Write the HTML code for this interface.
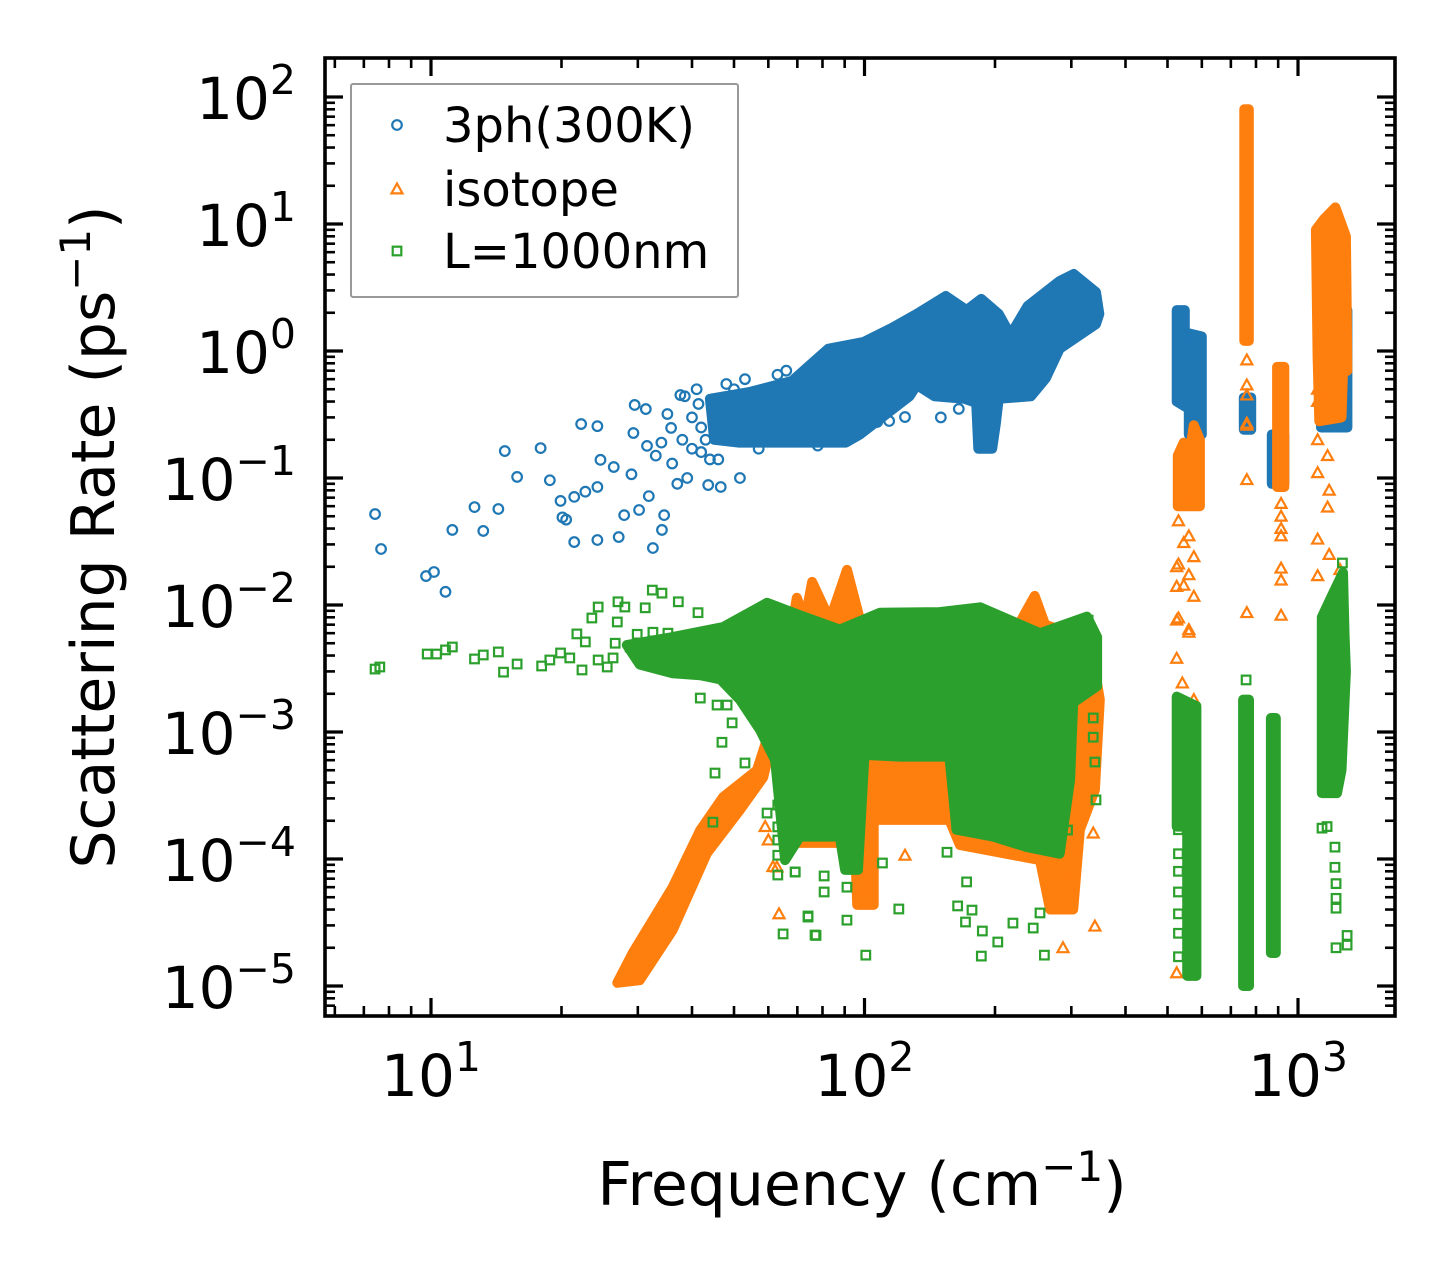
<!DOCTYPE html>
<html><head><meta charset="utf-8"><style>
html,body{margin:0;padding:0;background:#fff;}
svg{display:block;font-family:"DejaVu Sans","Liberation Sans",sans-serif;}
</style></head><body>
<svg id="chart" width="1455" height="1265" viewBox="0 0 1455 1265" xmlns="http://www.w3.org/2000/svg">
<defs><clipPath id="plotclip"><rect x="325" y="58" width="1070" height="958"/></clipPath></defs>
<rect x="0" y="0" width="1455" height="1265" fill="#fff"/>
<g id="series" clip-path="url(#plotclip)"></g>
<g id="axes"></g>
<g id="legend"></g>
</svg>
<script>
// ---------- data (frequency cm^-1, rate ps^-1) ----------
const xMajorTicks = [10, 100, 1000];
const xTickExponents = ["1", "2", "3"];
const yMajorTicks = [1e-5, 1e-4, 1e-3, 1e-2, 1e-1, 1, 10, 100];
const yTickExponents = ["\u22125", "\u22124", "\u22123", "\u22122", "\u22121", "0", "1", "2"];
const seriesNames = ["3ph(300K)", "isotope", "L=1000nm"];

// dense regions (outlines of overlapping markers)
const blueBlobs = [
  [[44,0.42],[54.2,0.475],[68,0.58],[82.4,1.04],[99.7,1.18],[115.7,1.52],[132,1.96],[154,2.71],[172,2.1],[186,2.57],[204,1.96],[217,1.34],[238,2.26],[282,3.56],[304,4.04],[342,2.91],[348,1.96],[342,1.63],[282,1.04],[262,0.61],[242,0.44],[204,0.42],[201,0.27],[197,0.17],[183,0.17],[181,0.39],[170,0.42],[145,0.44],[132,0.54],[127,0.44],[97.6,0.22],[90.6,0.19],[74.8,0.19],[59.6,0.19],[51.4,0.19],[45,0.2]],
  [[525,2.1],[548,2.1],[548,1.4],[600,1.3],[600,0.22],[560,0.22],[560,0.35],[525,0.4]],
  [[750,0.43],[780,0.43],[780,0.24],[750,0.24]],
  [[870,0.22],[930,0.22],[930,0.09],[870,0.09]],
  [[1130,2.1],[1300,2.1],[1300,0.25],[1130,0.25]]
];
const blueFreq = [7.43,7.67,9.74,10.16,10.8,11.2,12.6,13.2,14.3,14.8,15.8,17.9,18.8,19.9,20.5,22.2,24.2,29.5,31.3,29.3,35.1,37.6,38.5,41.4,20.1,21.4,24.2,27.1,32.5,34.1,34.5,43.6,46.6,51.6,24.6,26.4,21.4,22.7,24.2,31.5,35.8,29,30.2,27.9,31.8,101,107,114,124,33,36,38,40,42,39,44,37,34,40,45,43,548,548,42,46,50,53,57,63,70,78,86,95,48,41,60,66,150,165,210];
const blueRate = [0.052,0.0276,0.0169,0.0182,0.0127,0.039,0.059,0.0383,0.057,0.163,0.102,0.172,0.096,0.066,0.047,0.266,0.256,0.376,0.349,0.226,0.319,0.45,0.44,0.383,0.049,0.0313,0.0325,0.0343,0.0281,0.039,0.051,0.088,0.085,0.1,0.139,0.122,0.071,0.078,0.085,0.179,0.248,0.107,0.056,0.051,0.072,0.302,0.276,0.281,0.302,0.15,0.13,0.2,0.17,0.25,0.1,0.14,0.09,0.19,0.3,0.3,0.2,1.3,1.15,0.16,0.14,0.5,0.6,0.17,0.65,0.2,0.18,0.9,1.0,0.55,0.5,0.21,0.7,0.3,0.35,0.55];

const orangeBlobs = [
  [[26.9,1.06e-5],[29.2,1.82e-5],[36.1,6.0e-5],[41.8,1.69e-4],[47.2,3.08e-4],[56.5,5.0e-4],[60.5,1.04e-3],[61.5,9.1e-4],[58.4,4.4e-4],[51.6,2.43e-4],[43.3,1.11e-4],[36.1,2.76e-5],[30.3,1.11e-5]],
  [[67.3,0.0053],[69.8,0.0114],[72.9,0.0076],[75.7,0.0152],[83.2,0.0076],[91.1,0.0189],[97.7,0.0076],[205,0.0053],[230,0.0076],[247,0.0118],[261,0.007],[331,0.0053],[349,0.0018],[340,0.00035],[314,0.00017],[303,4e-5],[268,4e-5],[254,9.8e-5],[166,1.29e-4],[157,2.03e-4],[105,2.03e-4],[105,4.35e-5],[96.2,4.35e-5],[95.1,1.34e-4],[67.3,1.34e-4]],
  [[528,0.15],[545,0.19],[560,0.14],[575,0.26],[594,0.2],[594,0.06],[528,0.06]],
  [[752,80],[770,80],[770,1.2],[752,1.2]],
  [[895,0.75],[930,0.75],[930,0.085],[895,0.085]],
  [[1100,9],[1150,11],[1220,13.5],[1290,8],[1300,0.7],[1270,0.7],[1260,0.3],[1120,0.28],[1110,0.9]]
];
const orangeFreq = [59,60,61.5,63.5,62.8,101,124,287,340,337,29.6,530,560,545,575,530,560,545,575,530,560,525,525,525,560,525,541,575,525,762,762,762,762,762,762,914,914,914,914,914,914,914,1110,1170,1110,1180,1170,1110,1180,1110,1250,1250,1250,1250,1110,1110,1130,762];
const orangeRate = [1.8e-4,1.41e-4,8.7e-5,3.7e-5,8.65e-5,5.5e-5,1.07e-4,2.0e-5,2.96e-5,1.6e-4,1.17e-5,0.046,0.035,0.031,0.024,0.021,0.0173,0.0143,0.0117,0.0079,0.0061,0.02,0.014,0.0076,0.0064,0.0038,0.00243,0.0018,1.27e-5,0.85,0.54,0.45,0.27,0.097,0.0087,0.063,0.05,0.04,0.035,0.0195,0.0157,0.0083,0.2,0.15,0.11,0.08,0.059,0.033,0.025,0.017,0.019,0.0124,0.0091,8.3e-4,0.5,0.4,0.6,0.26];

const greenBlobs = [
  [[28.3,0.00484],[36.1,0.0056],[47.2,0.00671],[59.6,0.0104],[71,0.0083],[87.7,0.0064],[108.6,0.0087],[149,0.0088],[185,0.0096],[254,0.006],[326,0.0081],[344,0.0056],[344,0.0023],[303,0.0017],[298,0.00042],[282,0.00011],[237,0.000124],[198,0.00015],[163,0.00017],[157,0.00064],[121,0.00064],[100,0.00066],[96.6,0.000082],[90.2,0.000082],[87.7,0.00015],[71,0.00015],[65.6,0.000098],[62.2,0.0006],[57.4,0.00104],[51.6,0.0018],[46.5,0.0026],[41.8,0.0028],[36.1,0.0029],[30.3,0.0034]],
  [[525,0.0019],[583,0.0016],[583,1.2e-5],[555,1.2e-5],[555,1.8e-4],[525,1.8e-4]],
  [[747,1.8e-3],[771,1.8e-3],[771,1.0e-5],[747,1.0e-5]],
  [[866,1.29e-3],[889,1.29e-3],[889,1.82e-5],[866,1.82e-5]],
  [[1135,0.008],[1200,0.012],[1270,0.018],[1280,0.006],[1290,0.003],[1260,0.0005],[1230,0.00033],[1135,0.00033]]
];
const greenFreq = [7.43,7.62,9.8,10.3,10.8,11.2,12.6,13.2,14.3,14.7,15.8,18,18.8,19.9,20.9,21.7,22.3,22.7,23.5,24.3,24.3,25.5,26.3,26.9,27,28,26.6,28.8,29.9,31.2,32.4,34.1,32.5,35.2,37.2,41.3,41.8,45.7,48.2,49.5,46.9,45.2,53,44.7,59.6,63.1,63.1,63.1,63.1,63.1,69.2,74.1,64.9,76.9,74.1,77.3,80.7,80.7,69.2,91.1,91.1,100.7,120,110,164,177,171,187,186,203,220,245,260,254,172,155,342,294,340,337,337,328,530,530,530,530,530,530,530,759,1136,1167,1217,1217,1224,1224,1224,1298,1298,1224,1266,1266];
const greenRate = [0.00313,0.00325,0.00411,0.00411,0.00443,0.00467,0.00376,0.00404,0.00427,0.00296,0.00343,0.00331,0.00369,0.00419,0.00383,0.00592,0.00308,0.00512,0.0079,0.00964,0.00369,0.00325,0.00383,0.00735,0.0106,0.00964,0.005,0.00467,0.00588,0.0095,0.0131,0.0124,0.0061,0.006,0.0106,0.0087,0.00185,0.00163,0.00163,0.00118,0.00083,0.000475,0.00057,0.000195,0.00023,0.000266,0.000179,0.000141,0.000107,0.0000748,0.000079,0.0000349,0.0000257,0.0000252,3.56e-5,2.5e-5,7.35e-5,5.5e-5,7.9e-5,3.3e-5,6.0e-5,1.75e-5,4.04e-5,9.3e-5,4.27e-5,3.96e-5,3.19e-5,2.71e-5,1.72e-5,2.22e-5,3.13e-5,2.86e-5,1.75e-5,3.76e-5,6.6e-5,1.13e-4,2.92e-4,1.69e-4,5.8e-4,9.1e-4,1.29e-3,7.6e-3,1.7e-4,1.1e-4,8e-5,5.5e-5,3.7e-5,2.6e-5,1.7e-5,2.57e-3,1.75e-4,1.8e-4,1.24e-4,8.6e-5,6.4e-5,4.9e-5,4.1e-5,2.5e-5,2.1e-5,2.0e-5,0.0214,0.0158];

// ---------- axis functions ----------
const X0 = 431, XD = 433.5, Y0 = 351, YD = 127;
function xs(f){ return X0 + (Math.log10(f) - 1) * XD; }
function ys(r){ return Y0 - Math.log10(r) * YD; }
const PL = 325, PR = 1395, PT = 58, PB = 1016;
const NS = "http://www.w3.org/2000/svg";
const BLUE = "#1f77b4", ORANGE = "#ff7f0e", GREEN = "#2ca02c";

function mk(tag, attrs, parent){
  const e = document.createElementNS(NS, tag);
  for (const k in attrs) e.setAttribute(k, attrs[k]);
  parent.appendChild(e);
  return e;
}
const gS = document.getElementById("series");
const gA = document.getElementById("axes");
const gL = document.getElementById("legend");

function drawBlob(pts, color, parent, name){
  let d = "";
  pts.forEach((p, i) => { d += (i ? "L" : "M") + xs(p[0]).toFixed(1) + " " + ys(p[1]).toFixed(1) + " "; });
  const el = mk("path", {d: d + "Z", fill: color, stroke: color, "stroke-width": 10, "stroke-linejoin": "round"}, parent);
  
  
}
function marker(kind, cx, cy, color, parent, name){
  let el;
  if (kind === "circle") {
    el = mk("circle", {cx: cx, cy: cy, r: 4.8, fill: "none", stroke: color, "stroke-width": 2.2}, parent);
  } else if (kind === "tri") {
    const s = 5.5;
    el = mk("path", {d: `M${cx} ${cy - s}L${cx + s} ${cy + s * 0.8}L${cx - s} ${cy + s * 0.8}Z`, fill: "none", stroke: color, "stroke-width": 2.2}, parent);
  } else {
    el = mk("rect", {x: cx - 4.3, y: cy - 4.3, width: 8.6, height: 8.6, fill: "none", stroke: color, "stroke-width": 2.2}, parent);
  }
  
  
  return el;
}
function drawSeries(blobs, fr, rt, color, kind, key){
  const g = mk("g", {}, gS);
  
  
  blobs.forEach((b) => drawBlob(b, color, g, key + '-dense-cluster'));
  fr.forEach((f, i) => marker(kind, xs(f), ys(rt[i]), color, g, key + '-point'));
}
drawSeries(blueBlobs, blueFreq, blueRate, BLUE, "circle", "3ph");
drawSeries(orangeBlobs, orangeFreq, orangeRate, ORANGE, "tri", "isotope");
drawSeries(greenBlobs, greenFreq, greenRate, GREEN, "square", "boundary");

// ---------- frame & ticks ----------
const frame = mk("rect", {x: PL, y: PT, width: PR - PL, height: PB - PT, fill: "none", stroke: "#000", "stroke-width": 3.6}, gA);



function tickLine(x1, y1, x2, y2, w, name){
  const t = mk("line", {x1: x1, y1: y1, x2: x2, y2: y2, stroke: "#000", "stroke-width": w}, gA);
  
  
}
for (let dec = 1; dec <= 1000; dec *= 10) {
  for (let m = 1; m <= 9; m++) {
    const v = dec * m, x = xs(v);
    if (x < PL + 2 || x > PR - 2) continue;
    const L = m === 1 ? 18 : 10, w = m === 1 ? 3.2 : 2.6;
    tickLine(x, PB, x, PB - L, w, m === 1 ? 'x-major-tick' : 'x-minor-tick');
    tickLine(x, PT, x, PT + L, w, m === 1 ? 'x-major-tick-top' : 'x-minor-tick-top');
  }
}
for (let e = -6; e <= 2; e++) {
  for (let m = 1; m <= 9; m++) {
    const v = m * Math.pow(10, e), y = ys(v);
    if (y < PT + 2 || y > PB - 2) continue;
    const L = m === 1 ? 18 : 10, w = m === 1 ? 3.2 : 2.6;
    tickLine(PL, y, PL + L, y, w, m === 1 ? 'y-major-tick' : 'y-minor-tick');
    tickLine(PR, y, PR - L, y, w, m === 1 ? 'y-major-tick-right' : 'y-minor-tick-right');
  }
}
xMajorTicks.forEach((v, i) => {
  const t = mk("text", {x: xs(v), y: 1096, "text-anchor": "middle", "font-size": 58, fill: "#000"}, gA);
  
  
  t.appendChild(document.createTextNode("10"));
  const s = mk("tspan", {dy: -25, "font-size": 41}, t);
  s.textContent = xTickExponents[i];
});
yMajorTicks.forEach((v, i) => {
  const t = mk("text", {x: 296, y: ys(v) + 22, "text-anchor": "end", "font-size": 58, fill: "#000"}, gA);
  
  
  t.appendChild(document.createTextNode("10"));
  const s = mk("tspan", {dy: -25, "font-size": 41}, t);
  s.textContent = yTickExponents[i];
});
const xt = mk("text", {x: 862, y: 1205, "text-anchor": "middle", "font-size": 60, fill: "#000"}, gA);


xt.appendChild(document.createTextNode("Frequency (cm"));
const xs1 = mk("tspan", {dy: -24, "font-size": 42}, xt); xs1.textContent = "\u22121";
const xs2 = mk("tspan", {dy: 24}, xt); xs2.textContent = ")";

const yt = mk("text", {x: 0, y: 0, transform: "translate(114,537) rotate(-90)", "text-anchor": "middle", "font-size": 60, fill: "#000"}, gA);


yt.appendChild(document.createTextNode("Scattering Rate (ps"));
const ys1 = mk("tspan", {dy: -24, "font-size": 42}, yt); ys1.textContent = "\u22121";
const ys2 = mk("tspan", {dy: 24}, yt); ys2.textContent = ")";

// ---------- legend ----------
const lb = mk("rect", {x: 351, y: 84, width: 387, height: 213, fill: "#fff", "fill-opacity": 0.85, stroke: "#999", "stroke-width": 2, rx: 2}, gL);


const legendKinds = ["circle", "tri", "square"];
const legendColors = [BLUE, ORANGE, GREEN];
const legendRowY = [125, 189, 251];
seriesNames.forEach((n, i) => {
  const g = mk("g", {}, gL);
  
  
  marker(legendKinds[i], 397, legendRowY[i], legendColors[i], g, 'legend-marker');
  const t = mk("text", {x: 443, y: legendRowY[i] + 17, "font-size": 48, fill: "#000"}, g);
  
  
  t.textContent = n;
});
</script>
</body></html>
